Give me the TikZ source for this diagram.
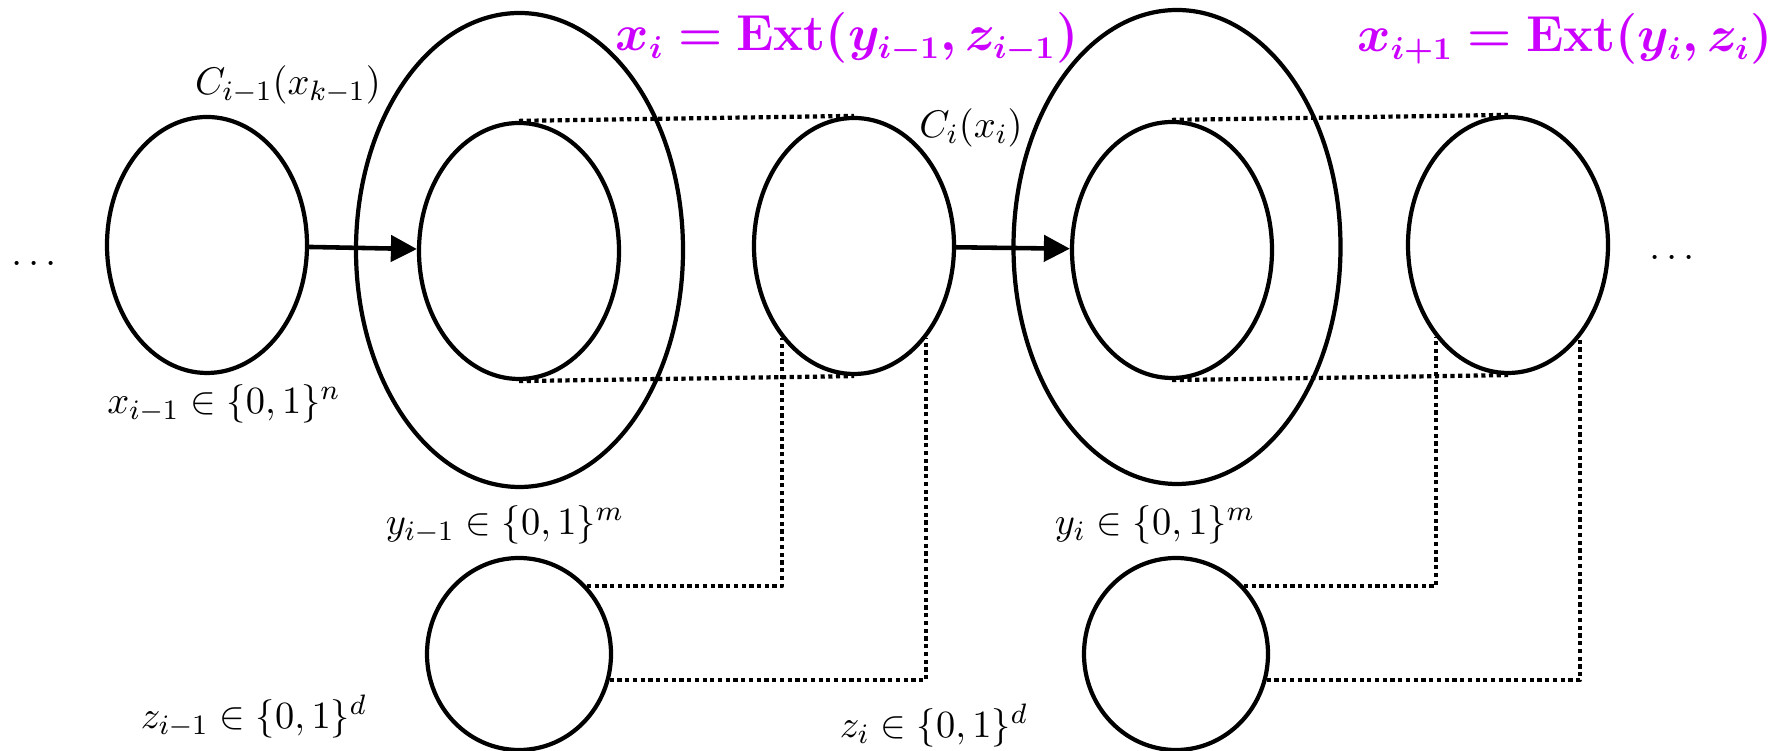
\documentclass[tikz,border=0pt]{standalone}
\usepackage{amsmath,amssymb,bm}
\usepackage{tikz}
\usetikzlibrary{arrows.meta,calc,shapes.geometric}
\usetikzlibrary{positioning}
\definecolor{extpink}{RGB}{204,0,255}

\begin{document}
\begin{tikzpicture}[>=Stealth,line join=round,font=\fontsize{11}{13}\selectfont,
  set/.style={ellipse,draw,line width=1.2pt,inner sep=0pt,minimum width=2cm,minimum height=2.56cm},
  outer/.style={set,minimum width=3.27cm,minimum height=4.74cm},
  seed/.style={set,minimum width=1.84cm,minimum height=1.92cm},
  link/.style={line width=1.2pt,dash pattern=on 1.2pt off 1pt},
  map/.style={line width=1.3pt,-{Triangle[length=7.4pt,width=7.4pt]}},
  ext/.style={text=extpink,font=\fontsize{13.5}{16}\selectfont}]
\useasboundingbox (0,0) rectangle (17.78,7.51);
% sources x
\node[set] (xa) at (2.07,5.06) {};
\node[set] (xb) at (8.54,5.05) {};
\node[set] (xc) at (15.08,5.06) {};
% outputs y (big) and their inner sets
\node[outer] (ya) at (5.195,5.01) {};
\node[set] (ia) at (5.19,5.00) {};
\node[outer] (yb) at (11.77,5.04) {};
\node[set] (ib) at (11.72,5.01) {};
% seeds z
\node[seed] (za) at (5.19,0.97) {};
\node[seed] (zb) at (11.76,0.97) {};
% maps
\draw[map] (xa) -- (ia);
\draw[map] (xb) -- (ib);
% dotted links
\draw[link] (ia.north) -- (xb.north);
\draw[link] (ia.south) -- (xb.south);
\draw[link] (ib.north) -- (xc.north);
\draw[link] (ib.south) -- (xc.south);
\draw[link] (za.45) -| (xb.232);
\draw[link] (za.-16) -| (xb.308);
\draw[link] (zb.45) -| (xc.232);
\draw[link] (zb.-16) -| (xc.308);
% labels
\node (ldots) at (0.37,4.88) {$\dots$};
\node (rdots) at (16.75,4.94) {$\dots$};
\node (ca) at (2.88,6.66) {$C_{i-1}(x_{k-1})$};
\node (cb) at (9.71,6.23) {$C_i(x_i)$};
\node (xla) at (2.24,3.47) {$x_{i-1}\in\{0,1\}^n$};
\node (yla) at (5.05,2.26) {$y_{i-1}\in\{0,1\}^m$};
\node (ylb) at (11.55,2.26) {$y_i\in\{0,1\}^m$};
\node (zla) at (2.54,0.34) {$z_{i-1}\in\{0,1\}^d$};
\node (zlb) at (9.34,0.25) {$z_i\in\{0,1\}^d$};
\node[ext] (exa) at (8.47,7.13) {$\bm{x_i=\mathbf{Ext}(y_{i-1},z_{i-1})}$};
\node[ext] (exb) at (15.65,7.12) {$\bm{x_{i+1}=\mathbf{Ext}(y_i,z_i)}$};
\end{tikzpicture}
\end{document}
